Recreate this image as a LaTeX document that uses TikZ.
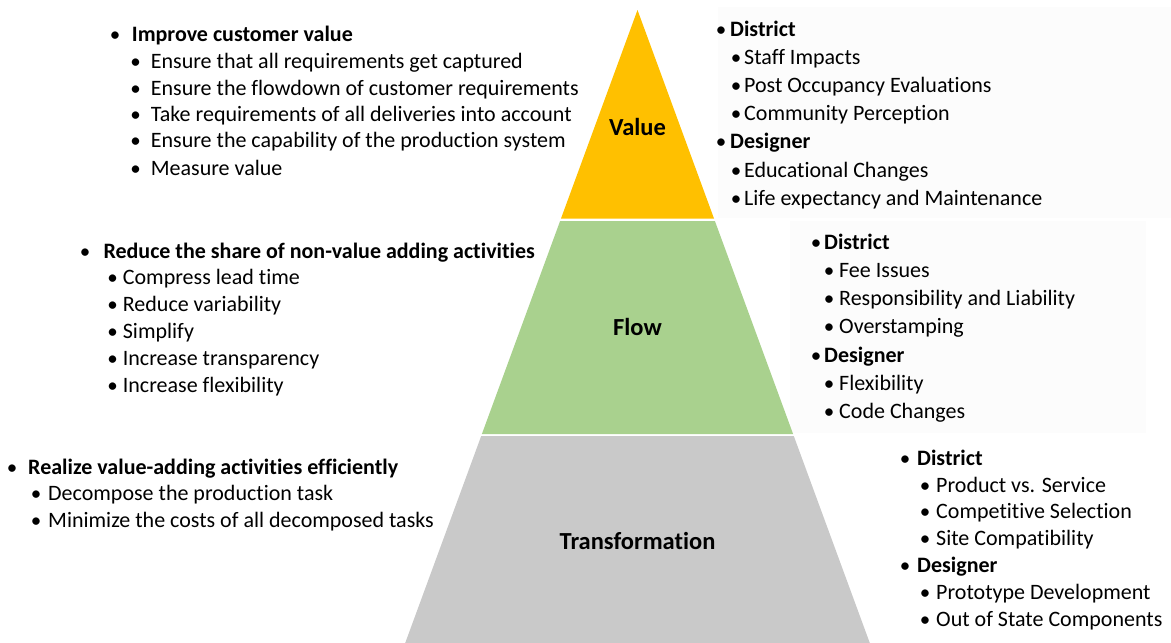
\documentclass[tikz,border=0pt]{standalone}
\usepackage{fontspec}
\setmainfont{Carlito}[Ligatures={NoCommon}]
\definecolor{valcol}{HTML}{FFC000}
\definecolor{flowcol}{HTML}{A9D18E}
\definecolor{trancol}{HTML}{C9C9C9}
\definecolor{boxbg}{HTML}{FCFCFC}
\tikzset{
  txt/.style={anchor=base west, inner sep=0pt, font=\fontsize{22}{27}\selectfont},
  hd/.style={anchor=base west, inner sep=0pt, font=\bfseries\fontsize{22}{27}\selectfont},
  bul/.style={anchor=base, inner sep=0pt, font=\fontsize{21}{27}\selectfont},
  tier/.style={anchor=center, inner sep=0pt, font=\bfseries\fontsize{24.5}{29}\selectfont},
}
% #1 name, #2 bullet x, #3 text x, #4 baseline y, #5 text
\newcommand\itemline[5]{%
  \node[bul] (#1b) at (#2,#4) {•};
  \node[txt] (#1) at (#3,#4) {#5};}
\newcommand\headline[5]{%
  \node[bul] (#1b) at (#2,#4) {•};
  \node[hd] (#1) at (#3,#4) {#5};}
\begin{document}
\begin{tikzpicture}[x=1pt,y=-1pt]
\useasboundingbox (0,0) rectangle (1171,643);
% faint backgrounds of right text boxes
\fill[boxbg] (718,7) rectangle (1171,218);
\fill[boxbg] (790,221) rectangle (1146,433);
% pyramid
\fill[valcol] (637.5,10) -- (714,218.5) -- (561,218.5) -- cycle;
\fill[flowcol] (560.1,221) -- (714.9,221) -- (793.1,434) -- (481.9,434) -- cycle;
\fill[trancol] (481.2,436) -- (793.8,436) -- (869.8,643) -- (405.2,643) -- cycle;
\node[tier] (value) at (637.5,127) {Value};
\node[tier] (flow) at (637.5,327) {Flow};
\node[tier] (transf) at (637.5,541) {Transformation};
% top-left
\headline{tla}{115}{131.7}{41.7}{Improve customer value}
\itemline{tlb}{135.5}{150.7}{68.3}{Ensure that all requirements get captured}
\itemline{tlc}{135.5}{150.7}{95}{Ensure the flowdown of customer requirements}
\itemline{tld}{135.5}{150.7}{121.7}{Take requirements of all deliveries into account}
\itemline{tle}{135.5}{150.7}{147.7}{Ensure the capability of the production system}
\itemline{tlf}{135.5}{150.7}{175}{Measure value}
% middle-left
\headline{mla}{85}{103.3}{258.3}{Reduce the share of non-value adding activities}
\itemline{mlb}{112.7}{122.7}{284.3}{Compress lead time}
\itemline{mlc}{112.7}{122.7}{311.7}{Reduce variability}
\itemline{mld}{112.7}{122.7}{338.3}{Simplify}
\itemline{mle}{112.7}{122.7}{365}{Increase transparency}
\itemline{mlf}{112.7}{122.7}{392.3}{Increase flexibility}
% bottom-left
\headline{bla}{12}{28}{474}{Realize value-adding activities efficiently}
\itemline{blb}{36}{48}{500}{Decompose the production task}
\itemline{blc}{36}{48}{527}{Minimize the costs of all decomposed tasks}
% top-right
\headline{tra}{721}{730}{36}{District}
\itemline{trb}{736}{744}{64}{Staff Impacts}
\itemline{trc}{736}{744}{92}{Post Occupancy Evaluations}
\itemline{trd}{736}{744}{120}{Community Perception}
\headline{tre}{721}{730}{148}{Designer}
\itemline{trf}{736}{744}{177}{Educational Changes}
\itemline{trg}{736}{744}{205}{Life expectancy and Maintenance}
% middle-right
\headline{mra}{816}{824}{249}{District}
\itemline{mrb}{829}{839}{277}{Fee Issues}
\itemline{mrc}{829}{839}{305}{Responsibility and Liability}
\itemline{mrd}{829}{839}{333}{Overstamping}
\headline{mre}{816}{824}{362}{Designer}
\itemline{mrf}{829}{839}{390}{Flexibility}
\itemline{mrg}{829}{839}{418}{Code Changes}
% bottom-right
\headline{bra}{905}{917}{465}{District}
\itemline{brb}{925}{936}{492}{Product vs. Service}
\itemline{brc}{925}{936}{518}{Competitive Selection}
\itemline{brd}{925}{936}{545}{Site Compatibility}
\headline{bre}{905}{917}{572}{Designer}
\itemline{brf}{925}{936}{599}{Prototype Development}
\itemline{brg}{925}{936}{626}{Out of State Components}
\end{tikzpicture}
\end{document}
